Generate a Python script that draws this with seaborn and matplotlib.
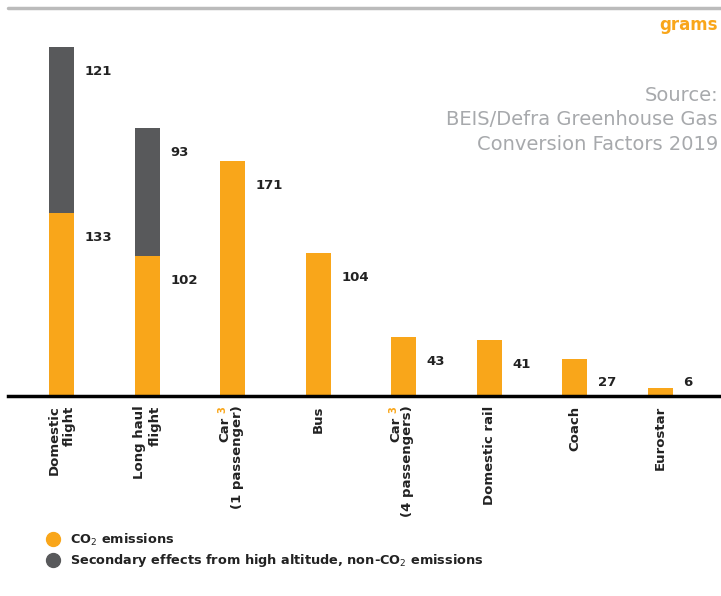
import matplotlib
matplotlib.use("Agg")
import matplotlib.pyplot as plt
import matplotlib.transforms as mtrans
from matplotlib.lines import Line2D
import seaborn as sns

# data (grams CO2e per passenger km)
categories = ["Domestic flight", "Long haul flight", "Car (1 passenger)", "Bus",
              "Car (4 passengers)", "Domestic rail", "Coach", "Eurostar"]
tick_labels = ["Domestic\nflight", "Long haul\nflight", "(1 passenger)", "Bus",
               "(4 passengers)", "Domestic rail", "Coach", "Eurostar"]
co2 = [133, 102, 171, 104, 43, 41, 27, 6]
secondary = [121, 93, 0, 0, 0, 0, 0, 0]
footnote_idx = [2, 4]  # the two car bars: "Car" + orange superscript 3

ORANGE = "#F9A61A"
DARK = "#58595B"
GREY = "#A7A9AC"
INK = "#222222"

sns.set_theme(style="white")
plt.rcParams['font.family'] = ['DejaVu Sans']

fig = plt.figure(figsize=(7.21, 5.96), dpi=100)
ax = fig.add_axes([8 / 721, 200 / 596, 713 / 721, 356 / 596])

totals = [c + s for c, s in zip(co2, secondary)]
# stacked: draw totals in dark grey, then CO2 part on top in orange
sns.barplot(x=categories, y=totals, color=DARK, width=0.29, saturation=1, linewidth=0, ax=ax)
sns.barplot(x=categories, y=co2, color=ORANGE, width=0.29, saturation=1, linewidth=0, ax=ax)

ax.set_xlim(-0.63, 7.71)
ax.set_ylim(0, 259)
ax.set_yticks([])
ax.set_ylabel("")
for s in ["left", "right", "top"]:
    ax.spines[s].set_visible(False)
ax.spines["bottom"].set_color("black")
ax.spines["bottom"].set_linewidth(2.5)
ax.spines["bottom"].set_zorder(5)
ax.tick_params(axis="x", length=0, pad=7)
ax.set_xticks(range(len(categories)))
ax.set_xticklabels(tick_labels, rotation=90, ha="center", va="top", ma="right",
                   fontsize=9.5, fontweight="bold", color=INK)

# nudge the car labels right to leave room for the "Car" line
shift = mtrans.ScaledTranslation(3 / 72, 0, fig.dpi_scale_trans)
for i in footnote_idx:
    lab = ax.get_xticklabels()[i]
    lab.set_transform(lab.get_transform() + shift)

# "Car" line with orange footnote mark for the car bars
for i in footnote_idx:
    ax.annotate("Car", xy=(i, 0), xycoords=("data", "axes fraction"),
                xytext=(-5.5, -15), textcoords="offset points", rotation=90,
                ha="center", va="top", fontsize=9.5, fontweight="bold", color=INK)
    ax.annotate("3", xy=(i, 0), xycoords=("data", "axes fraction"),
                xytext=(-7.5, -7.5), textcoords="offset points", rotation=90,
                ha="center", va="top", fontsize=7, fontweight="bold", color=ORANGE)

# value labels
for i, (c, s) in enumerate(zip(co2, secondary)):
    ax.text(i + 0.27, max(c - 18, 10), str(c), ha="left", va="center",
            fontsize=9.5, fontweight="bold", color=INK)
    if s:
        ax.text(i + 0.27, c + s - 18, str(s), ha="left", va="center",
                fontsize=9.5, fontweight="bold", color=INK)

# header line and unit / source notes
fig.add_artist(Line2D([8 / 721, 1], [1 - 8 / 596, 1 - 8 / 596], color="#BBBBBB", lw=2.5))
fig.text(718 / 721, 1 - 25 / 596, "grams", ha="right", va="center",
         fontsize=12, color=ORANGE, fontweight="bold")
fig.text(718 / 721, 1 - 120 / 596,
         "Source:\nBEIS/Defra Greenhouse Gas\nConversion Factors 2019",
         ha="right", va="center", fontsize=14, color=GREY, linespacing=1.38)

handles = [
    Line2D([], [], marker="o", ls="", color=ORANGE, markersize=10),
    Line2D([], [], marker="o", ls="", color=DARK, markersize=10),
]
labels = ["CO$_2$ emissions", "Secondary effects from high altitude, non-CO$_2$ emissions"]
leg = fig.legend(handles, labels, loc="upper left", bbox_to_anchor=(34 / 721, 1 - 520 / 596),
                 frameon=False, handletextpad=0.7, labelspacing=0.35, handlelength=1.2,
                 prop={"size": 9.3, "weight": "bold"})
for t in leg.get_texts():
    t.set_color(INK)

fig.savefig("out.png", dpi=100)
